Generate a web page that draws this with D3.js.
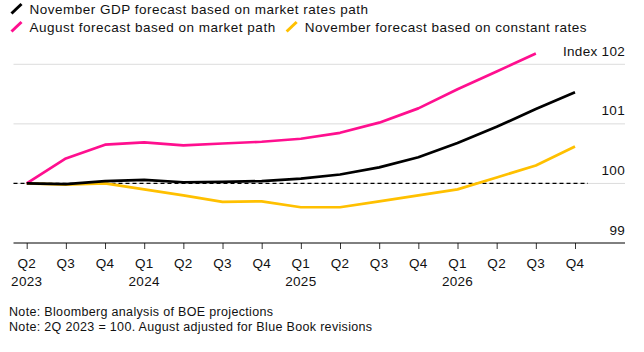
<!DOCTYPE html>
<html>
<head>
<meta charset="utf-8">
<script src="https://cdn.jsdelivr.net/npm/d3@7"></script>
<style>
  html, body { margin: 0; padding: 0; background: #fff; }
  svg { display: block; font-family: "Liberation Sans", Arial, sans-serif; }
</style>
</head>
<body>
<svg id="chart"></svg>
<script>
// quarters on the x axis, with the year shown under the first one of each year
const quarters = ["Q2","Q3","Q4","Q1","Q2","Q3","Q4","Q1","Q2","Q3","Q4","Q1","Q2","Q3","Q4"];
const years    = ["2023","","","2024","","","","2025","","","","2026","","",""];

// index values, 2Q 2023 = 100
const novMarket   = [100, 99.99, 100.04, 100.06, 100.02, 100.025, 100.04, 100.08, 100.15, 100.27, 100.44, 100.68, 100.95, 101.25, 101.53];
const augMarket   = [100, 100.42, 100.65, 100.69, 100.64, 100.67, 100.70, 100.75, 100.85, 101.02, 101.26, 101.58, 101.88, 102.18];
const novConstant = [100, 99.98, 100.0, 99.9, 99.8, 99.69, 99.70, 99.6, 99.6, 99.7, 99.8, 99.9, 100.1, 100.3, 100.62];

const yTicks = [99, 100, 101, 102];

const seriesNames = [
  "November GDP forecast based on market rates path",
  "August forecast based on market path",
  "November forecast based on constant rates"
];
const colors = ["#000000", "#ff0f8f", "#ffc000"];

const width = 644, height = 352;
const svg = d3.select("#chart")
  .attr("width", width)
  .attr("height", height)
  .attr("viewBox", [0, 0, width, height]);

const x = d3.scalePoint(d3.range(quarters.length), [26.7, 575]);
const y = d3.scaleLinear([99, 102], [243, 64.3]);
const left = 13.5, right = 625;

// gridlines
svg.append("g")
  .selectAll("line")
  .data(yTicks.filter(d => d > 99))
  .join("line")
    .attr("x1", left).attr("x2", right)
    .attr("y1", d => y(d)).attr("y2", d => y(d))
    .attr("stroke", "#dcdcdc")
    .attr("stroke-width", 1);

// y labels
svg.append("g")
  .selectAll("text")
  .data(yTicks)
  .join("text")
    .attr("x", right)
    .attr("y", d => y(d) - 8.5)
    .attr("text-anchor", "end")
    .attr("font-size", 13.5)
    .attr("letter-spacing", 0.3)
    .attr("fill", "#111")
    .text(d => d === 102 ? "Index 102" : d);

// baseline at 100
svg.append("line")
  .attr("x1", left).attr("x2", 588)
  .attr("y1", y(100)).attr("y2", y(100))
  .attr("stroke", "#000")
  .attr("stroke-width", 1.2)
  .attr("stroke-dasharray", "4,3");

// lines
const line = d3.line()
  .x((d, i) => x(i))
  .y(d => y(d));

svg.append("g")
  .attr("fill", "none")
  .attr("stroke-width", 2.7)
  .attr("stroke-linejoin", "round")
  .selectAll("path")
  .data([novConstant, augMarket, novMarket])
  .join("path")
    .attr("stroke", (d, i) => [colors[2], colors[1], colors[0]][i])
    .attr("d", line);

// x axis
const xAxis = d3.axisBottom(x).tickSize(6).tickFormat(() => "");
svg.append("g")
  .attr("transform", `translate(0,${y(99)})`)
  .call(xAxis)
  .call(g => g.select(".domain").remove())
  .call(g => g.selectAll(".tick line").attr("stroke", "#333"));

svg.append("line")
  .attr("x1", left).attr("x2", right)
  .attr("y1", y(99)).attr("y2", y(99))
  .attr("stroke", "#000")
  .attr("stroke-width", 1);

const xl = svg.append("g")
  .attr("font-size", 13.5)
  .attr("letter-spacing", 0.3)
  .attr("fill", "#111")
  .attr("text-anchor", "middle");
xl.selectAll(".q")
  .data(quarters)
  .join("text")
    .attr("class", "q")
    .attr("x", (d, i) => x(i))
    .attr("y", 267.5)
    .text(d => d);
xl.selectAll(".yr")
  .data(years)
  .join("text")
    .attr("class", "yr")
    .attr("x", (d, i) => x(i))
    .attr("y", 286)
    .text(d => d);

// legend
const legend = svg.append("g")
  .attr("font-size", 13.5)
  .attr("letter-spacing", 0.5)
  .attr("fill", "#111");
function legendItem(i, lx, ly) {
  legend.append("line")
    .attr("x1", lx).attr("y1", ly + 1)
    .attr("x2", lx + 10).attr("y2", ly - 8.5)
    .attr("stroke", colors[i])
    .attr("stroke-width", 3);
  const t = legend.append("text")
    .attr("x", lx + 18)
    .attr("y", ly + 1)
    .text(seriesNames[i]);
  return lx + 18 + t.node().getComputedTextLength();
}
legendItem(0, 11.5, 12.5);
const end2 = legendItem(1, 11.5, 30.5);
legendItem(2, end2 + 11, 30.5);

// notes
const notes = svg.append("g")
  .attr("font-size", 12.5)
  .attr("letter-spacing", 0.33)
  .attr("fill", "#111");
notes.append("text").attr("x", 9).attr("y", 316).text("Note: Bloomberg analysis of BOE projections");
notes.append("text").attr("x", 9).attr("y", 331).text("Note: 2Q 2023 = 100. August adjusted for Blue Book revisions");
</script>
</body>
</html>
